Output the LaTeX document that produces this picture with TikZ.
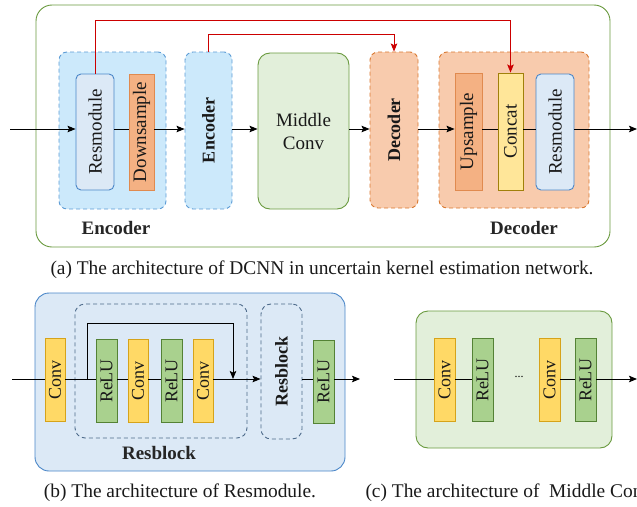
\documentclass[tikz,border=0pt]{standalone}
\usepackage{fontspec}
\setmainfont{Liberation Serif}
\usepackage{graphicx}
\usetikzlibrary{arrows.meta}
\definecolor{grnline}{HTML}{6A9A3F}
\definecolor{grnfill}{HTML}{E2EFDA}
\definecolor{encfill}{HTML}{CCE9FB}
\definecolor{encline}{HTML}{5B9BD5}
\definecolor{resfill}{HTML}{DCE9F6}
\definecolor{resline}{HTML}{4A86C8}
\definecolor{orfill}{HTML}{F4B183}
\definecolor{orline}{HTML}{E08A4F}
\definecolor{decfill}{HTML}{F8CBAD}
\definecolor{decline}{HTML}{D9782F}
\definecolor{catfill}{HTML}{FFE699}
\definecolor{catline}{HTML}{A0800A}
\definecolor{cvfill}{HTML}{FFD966}
\definecolor{cvline}{HTML}{D6A31A}
\definecolor{rlfill}{HTML}{A9D18E}
\definecolor{rlline}{HTML}{548235}
\definecolor{rbline}{HTML}{4D6A8A}
\definecolor{skipred}{HTML}{CC0000}
\tikzset{
  blk/.style={draw, line width=0.9pt, inner sep=0pt, text=black!90, font=\fontsize{19}{23}\selectfont},
  encbox/.style={blk, fill=encfill, draw=encline, dashed, dash pattern=on 4pt off 3pt, rounded corners=8pt},
  decbox/.style={blk, fill=decfill, draw=decline, dashed, dash pattern=on 4pt off 3pt, rounded corners=8pt},
  resbox/.style={blk, fill=resfill, draw=resline, rounded corners=5pt},
  orbox/.style={blk, fill=orfill, draw=orline},
  catbox/.style={blk, fill=catfill, draw=catline},
  cvbox/.style={blk, fill=cvfill, draw=cvline, minimum width=20pt, minimum height=83pt, font=\fontsize{18}{21}\selectfont},
  rlbox/.style={blk, fill=rlfill, draw=rlline, minimum width=21pt, minimum height=83pt, font=\fontsize{18}{21}\selectfont},
  midbox/.style={blk, fill=grnfill, draw=grnline, rounded corners=12pt},
  rbbox/.style={blk, draw=rbline, dashed, dash pattern=on 4pt off 3pt, rounded corners=10pt},
  lbl/.style={font=\fontsize{19}{22}\selectfont\bfseries, text=black!85},
  captxt/.style={font=\fontsize{19.4}{22}\selectfont, text=black!90},
  flow/.style={line width=0.9pt, black},
  arr/.style={flow, -{Stealth[length=8pt,width=6.5pt,inset=1.5pt]}},
  redarr/.style={line width=0.9pt, skipred, -{Stealth[length=8pt,width=6.5pt,inset=1.5pt]}},
}
\newcommand{\rt}[1]{\rotatebox{90}{#1}}
\begin{document}
\begin{tikzpicture}[x=1pt,y=-1pt]
\useasboundingbox (0,0) rectangle (637,506);
\clip (0,0) rectangle (637,506);
% ---------------- (a) ----------------
\node[blk, draw=grnline, rounded corners=16pt, minimum width=574pt, minimum height=242pt] (outer) at (323,126) {};
\node[encbox, minimum width=107pt, minimum height=157pt] (encA) at (112.5,130.5) {};
\node[resbox, minimum width=38pt, minimum height=116pt] (resA) at (95,132) {\rt{Resmodule}};
\node[orbox, minimum width=25pt, minimum height=116pt] (down) at (141.5,132) {\rt{Downsample}};
\node[lbl] (encLbl) at (116,228) {Encoder};
\node[encbox, minimum width=47pt, minimum height=157pt, font=\fontsize{18}{21}\selectfont] (encB) at (208.5,130.5) {\rt{\bfseries Encoder}};
\node[midbox, minimum width=91pt, minimum height=156pt, align=center] (mid) at (303.5,131) {Middle\\Conv};
\node[decbox, minimum width=48pt, minimum height=156pt, font=\fontsize{18}{21}\selectfont] (decA) at (394,130) {\rt{\bfseries Decoder}};
\node[decbox, minimum width=150pt, minimum height=156pt] (decB) at (514,130) {};
\node[orbox, minimum width=27pt, minimum height=117pt] (up) at (468.5,131.5) {\rt{Upsample}};
\node[catbox, minimum width=25pt, minimum height=117pt] (cat) at (510.5,131.5) {\rt{Concat}};
\node[resbox, minimum width=38pt, minimum height=116pt] (resB) at (555,132) {\rt{Resmodule}};
\node[lbl] (decLbl) at (524,228) {Decoder};
\node[captxt] (capA) at (322,270) {(a) The architecture of DCNN in uncertain kernel estimation network.};
\coordinate (inA) at (10,129);
\coordinate (outA) at (637,129);
\draw[arr] (inA) -- (resA.west |- inA);
\draw[flow] (resA.east |- inA) -- (down.west |- inA);
\draw[arr] (down.east |- inA) -- (encB.west |- inA);
\draw[arr] (encB.east |- inA) -- (mid.west |- inA);
\draw[arr] (mid.east |- inA) -- (decA.west |- inA);
\draw[arr] (decA.east |- inA) -- (up.west |- inA);
\draw[flow] (up.east |- inA) -- (cat.west |- inA);
\draw[flow] (cat.east |- inA) -- (resB.west |- inA);
\draw[arr] (resB.east |- inA) -- (outA);
\coordinate (r1) at (0,20);
\coordinate (r2) at (0,34);
\draw[redarr] (resA.north) -- (resA.north |- r1) -| (cat.north);
\draw[redarr] (encB.north) -- (encB.north |- r2) -| (decA.north);
% ---------------- (b) ----------------
\node[blk, fill=resfill, draw=resline, rounded corners=14pt, minimum width=310pt, minimum height=178pt] (rmod) at (190,382) {};
\node[rbbox, minimum width=172pt, minimum height=134pt] (rb1) at (161,371) {};
\node[rbbox, minimum width=41pt, minimum height=135pt, font=\fontsize{18}{21}\selectfont] (rb2) at (281.5,371.5) {\rt{\bfseries Resblock}};
\node[cvbox] (c1) at (55,379.5) {\rt{Conv}};
\node[rlbox] (r1b) at (106.5,381) {\rt{ReLU}};
\node[cvbox] (c2) at (138,381) {\rt{Conv}};
\node[rlbox] (r2b) at (171.5,381) {\rt{ReLU}};
\node[cvbox] (c3) at (203,381) {\rt{Conv}};
\node[rlbox] (r3b) at (323.5,381.5) {\rt{ReLU}};
\node[lbl] (rbLbl) at (159,453) {Resblock};
\node[captxt] (capB) at (180,493) {(b) The architecture of Resmodule.};
\coordinate (inB) at (12,379);
\coordinate (outB) at (360,379);
\coordinate (skA) at (87,379);
\coordinate (skT) at (0,323);
\coordinate (skB) at (233,379);
\draw[flow] (inB) -- (c1.west |- inB);
\draw[flow] (c1.east |- inB) -- (r1b.west |- inB);
\draw[flow] (r1b.east |- inB) -- (c2.west |- inB);
\draw[flow] (c2.east |- inB) -- (r2b.west |- inB);
\draw[flow] (r2b.east |- inB) -- (c3.west |- inB);
\draw[arr] (c3.east |- inB) -- (rb2.west |- inB);
\draw[arr] (skA) -- (skA |- skT) -| (skB);
\draw[flow] (rb2.east |- inB) -- (r3b.west |- inB);
\draw[arr] (r3b.east |- inB) -- (outB);
% ---------------- (c) ----------------
\node[midbox, minimum width=196pt, minimum height=137pt] (mbox) at (514,379.5) {};
\node[cvbox, minimum width=21pt] (mc1) at (444.5,380) {\rt{Conv}};
\node[rlbox] (mr1) at (482.5,380) {\rt{ReLU}};
\node[font=\fontsize{12}{14}\selectfont] (dots) at (519,377) {...};
\node[cvbox, minimum width=21pt] (mc2) at (549.5,380) {\rt{Conv}};
\node[rlbox] (mr2) at (585.5,380) {\rt{ReLU}};
\node[captxt, anchor=west] (capC) at (362,493) {(c) The architecture of \ Middle Conv.};
\coordinate (inC) at (394,379);
\coordinate (outC) at (637,379);
\draw[flow] (inC) -- (mc1.west |- inC);
\draw[flow] (mc1.east |- inC) -- (mr1.west |- inC);
\draw[flow] (mc2.east |- inC) -- (mr2.west |- inC);
\draw[arr] (mr2.east |- inC) -- (outC);
\end{tikzpicture}
\end{document}
